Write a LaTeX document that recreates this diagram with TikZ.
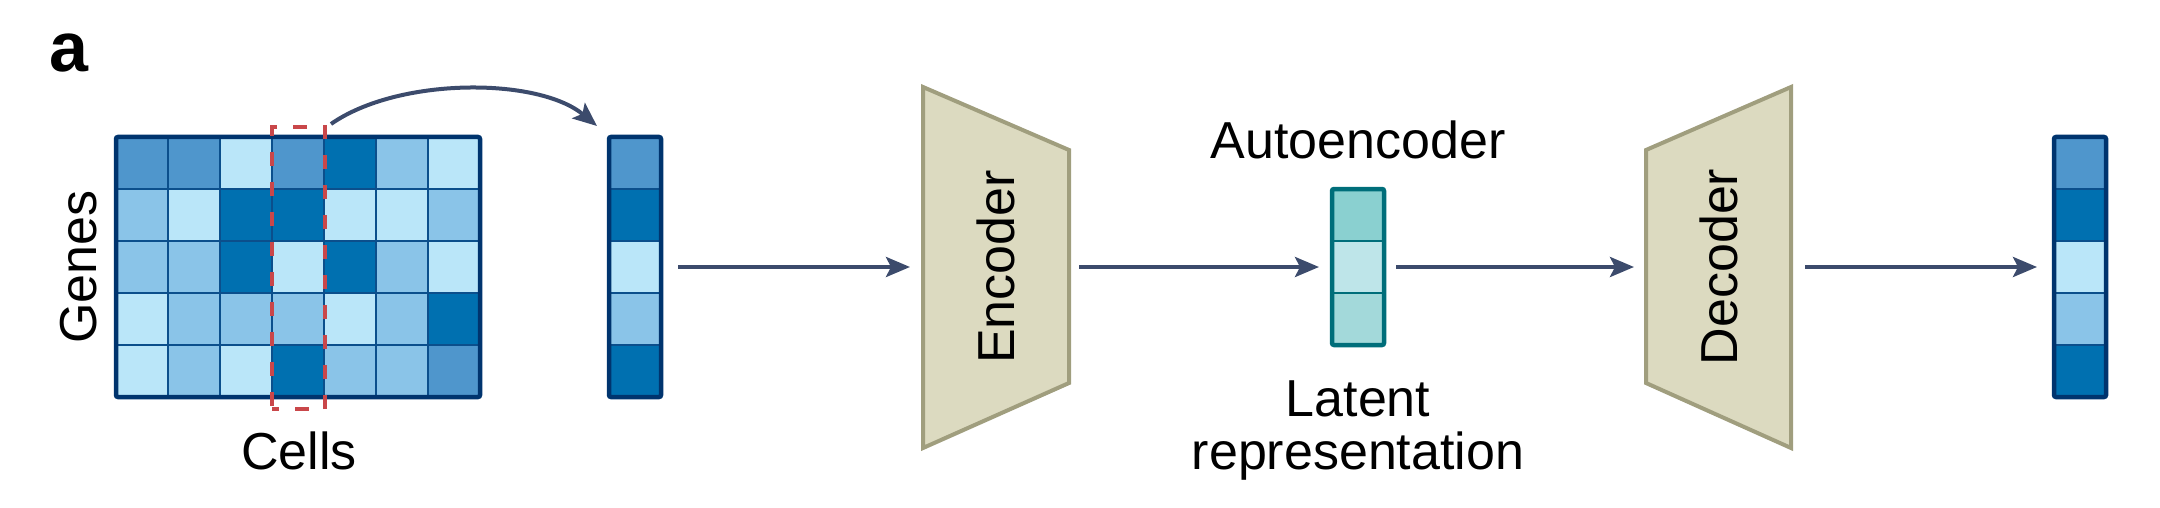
\documentclass[tikz,border=0pt]{standalone}
\usepackage{fontspec}
\setmainfont{Liberation Sans}
\usetikzlibrary{arrows.meta}
\definecolor{cA}{HTML}{0070B0}
\definecolor{cB}{HTML}{4F96CC}
\definecolor{cC}{HTML}{8AC4E8}
\definecolor{cD}{HTML}{BAE6F9}
\definecolor{gridc}{HTML}{0B4F8C}
\definecolor{bordc}{HTML}{00346E}
\definecolor{redc}{HTML}{C9474A}
\definecolor{trapf}{HTML}{DCDAC0}
\definecolor{trapd}{HTML}{A09E7E}
\definecolor{arrc}{HTML}{3C4B6C}
\definecolor{tA}{HTML}{8AD0D0}
\definecolor{tB}{HTML}{BEE5E9}
\definecolor{tC}{HTML}{A3D9DA}
\definecolor{tealb}{HTML}{006E7A}
\begin{document}
\begin{tikzpicture}[x=1pt,y=-1pt,
  lbl/.style={font=\fontsize{52}{53}\selectfont, inner sep=0pt},
  arr/.style={draw=arrc, line width=4pt, -{Stealth[length=24pt,width=20pt,inset=5pt]}},
  box/.style={rectangle, inner sep=0pt, outer sep=0pt},
  frame/.style={box, draw=bordc, line width=4.5pt, rounded corners=2pt},
  gridl/.style={draw=gridc, line width=2pt},
  tgrid/.style={draw=tealb, line width=2pt},
  trap/.style={fill=trapf, draw=trapd, line width=4pt, line join=miter},
]
\path[use as bounding box] (0,0) rectangle (2160,508);

% panel label
\node[font=\fontsize{70}{70}\selectfont\bfseries, inner sep=0pt, anchor=base west] (panel) at (49,72) {a};

% gene x cell matrix
\foreach \c [count=\i from 0] in {cB,cB,cD,cB,cA,cC,cD} \fill[\c] (116+52*\i,137) rectangle ++(52,52);
\foreach \c [count=\i from 0] in {cC,cD,cA,cA,cD,cD,cC} \fill[\c] (116+52*\i,189) rectangle ++(52,52);
\foreach \c [count=\i from 0] in {cC,cC,cA,cD,cA,cC,cD} \fill[\c] (116+52*\i,241) rectangle ++(52,52);
\foreach \c [count=\i from 0] in {cD,cC,cC,cC,cD,cC,cA} \fill[\c] (116+52*\i,293) rectangle ++(52,52);
\foreach \c [count=\i from 0] in {cD,cC,cD,cA,cC,cC,cB} \fill[\c] (116+52*\i,345) rectangle ++(52,52);
\foreach \i in {1,...,6} \draw[gridl] (116+52*\i,137) -- ++(0,260);
\foreach \j in {1,...,4} \draw[gridl] (116,137+52*\j) -- ++(364,0);
\node[frame, minimum width=364pt, minimum height=260pt] (mat) at (298,267) {};

% selected column
\node[box, draw=redc, line width=4pt, dash pattern=on 14pt off 16pt, dash phase=7pt,
      minimum width=53pt, minimum height=282pt] (sel) at (298.5,268) {};

% labels of matrix
\node[lbl, rotate=90, anchor=base] (genes) at (96,267) {Genes};
\node[lbl, anchor=base] (cells) at (299,469) {Cells};

% input vector
\foreach \c [count=\j from 0] in {cB,cA,cD,cC,cA} \fill[\c] (609,137+52*\j) rectangle ++(52,52);
\foreach \j in {1,...,4} \draw[gridl] (609,137+52*\j) -- ++(52,0);
\node[frame, minimum width=52pt, minimum height=260pt] (vec1) at (635,267) {};

% curved arrow
\coordinate (cs) at (331,124);
\coordinate (ce) at (597,126);
\draw[arr] (cs) .. controls (398,77) and (538,77) .. (ce);

% encoder
\draw[trap] (923,87) -- (1069,150) -- (1069,383) -- (923,448) -- cycle;
\node[box, lbl, rotate=90, minimum width=361pt, minimum height=146pt] (enc) at (996,267) {Encoder};

% latent
\fill[tA] (1332,189) rectangle ++(52,52);
\fill[tB] (1332,241) rectangle ++(52,52);
\fill[tC] (1332,293) rectangle ++(52,52);
\draw[tgrid] (1332,241) -- ++(52,0);
\draw[tgrid] (1332,293) -- ++(52,0);
\node[frame, draw=tealb, minimum width=52pt, minimum height=156pt] (lat) at (1358,267) {};
\node[lbl, anchor=base] (ae) at (1358,158) {Autoencoder};
\node[lbl, anchor=base] (lt1) at (1358,416) {Latent};
\node[lbl, anchor=base] (lt2) at (1358,469) {representation};

% decoder
\draw[trap] (1646,150) -- (1791,87) -- (1791,448) -- (1646,383) -- cycle;
\node[box, lbl, rotate=90, minimum width=361pt, minimum height=145pt] (dec) at (1718.5,267) {Decoder};

% output vector
\foreach \c [count=\j from 0] in {cB,cA,cD,cC,cA} \fill[\c] (2054,137+52*\j) rectangle ++(52,52);
\foreach \j in {1,...,4} \draw[gridl] (2054,137+52*\j) -- ++(52,0);
\node[frame, minimum width=52pt, minimum height=260pt] (vec2) at (2080,267) {};

% connectors
\draw[arr, shorten <=17pt, shorten >=13pt] (vec1) -- (enc);
\draw[arr, shorten <=10pt, shorten >=13pt] (enc) -- (lat);
\draw[arr, shorten <=12pt, shorten >=12pt] (lat) -- (dec);
\draw[arr, shorten <=14pt, shorten >=17pt] (dec) -- (vec2);
\end{tikzpicture}
\end{document}
